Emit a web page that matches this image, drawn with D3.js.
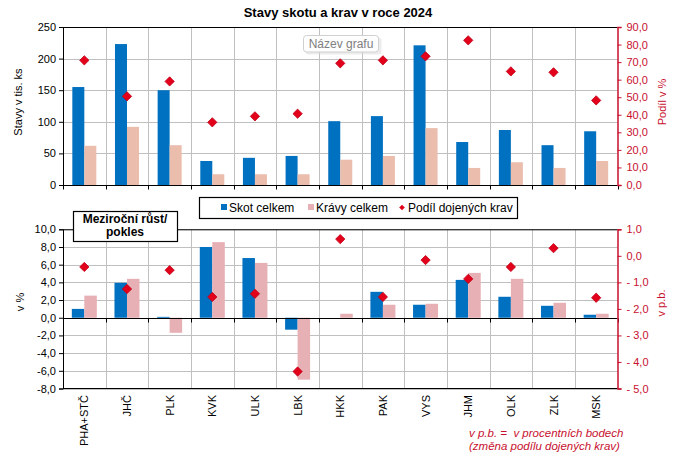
<!DOCTYPE html>
<html><head><meta charset="utf-8">
<script src="https://cdn.jsdelivr.net/npm/d3@7"></script>
<style>body{margin:0;background:#fff;} svg{display:block;font-family:"Liberation Sans",Arial,sans-serif;}</style>
</head><body>
<script>
const categories = ["PHA+STČ","JHČ","PLK","KVK","ULK","LBK","HKK","PAK","VYS","JHM","OLK","ZLK","MSK"];
// top chart: stavy v tis. ks
const skotStav = [155,223,150,38,43,46,101,109,221,68,87,63,85];
const kravyStav = [62,92,63,17,17,17,40,46,90,27,36,27,38];
const podilDojenych = [71.0,50.5,59.0,35.7,39.1,40.6,69.3,71.0,73.3,82.4,64.7,64.2,48.2];
// bottom chart: meziroční změna v %
const skotZmena = [1.0,3.95,0.1,8.0,6.75,-1.35,0.0,2.93,1.47,4.28,2.37,1.35,0.34];
const kravyZmena = [2.5,4.4,-1.7,8.55,6.2,-7.0,0.45,1.47,1.58,5.07,4.4,1.69,0.45];
const podilZmena = [-0.42,-1.25,-0.54,-1.55,-1.43,-4.36,0.63,-1.55,-0.16,-0.87,-0.42,0.29,-1.58];
const topLeftTicks = [0,50,100,150,200,250];
const topRightTicks = [0,10,20,30,40,50,60,70,80,90];
const botLeftTicks = [-8,-6,-4,-2,0,2,4,6,8,10];
const botRightTicks = [-5,-4,-3,-2,-1,0,1];

const W=680,H=463;
const BLUE="#0070c0", PINK_TOP="#eabdac", PINK_BOT="#e6b0b5", RED="#e2001a", AXRED="#c8102e", GRID="#c0c0c0";
const svg=d3.select("body").append("svg").attr("width",W).attr("height",H);
const L=63,R=617.5;
const x=d3.scaleBand().domain(categories).range([L,R]).paddingInner(0).paddingOuter(0);
const bw=x.bandwidth();
const fmt=v=>d3.format(".1f")(v).replace(".",",").replace("−","-");

// title
svg.append("text").attr("x",338).attr("y",17).attr("text-anchor","middle").attr("font-weight","bold").attr("font-size",13).text("Stavy skotu a krav v roce 2024");

function panel(cfg){
  const g=svg.append("g");
  const yL=d3.scaleLinear().domain(cfg.ldom).range([cfg.bottom,cfg.top]);
  const yR=d3.scaleLinear().domain(cfg.rdom).range([cfg.bottom,cfg.top]);
  g.selectAll(null).data(cfg.lticks).join("line").attr("x1",L).attr("x2",R)
    .attr("y1",d=>Math.round(yL(d))+0.5).attr("y2",d=>Math.round(yL(d))+0.5).attr("stroke",GRID);
  g.selectAll(null).data(categories.slice(1)).join("line")
    .attr("x1",d=>Math.round(x(d))+0.5).attr("x2",d=>Math.round(x(d))+0.5)
    .attr("y1",cfg.top).attr("y2",cfg.bottom).attr("stroke",GRID);
  const bwid=cfg.barW;
  g.selectAll(null).data(cfg.s1).join("rect")
    .attr("x",(d,i)=>x(categories[i])+bw/2-bwid).attr("width",bwid)
    .attr("y",d=>Math.min(yL(d),yL(0))).attr("height",d=>Math.abs(yL(d)-yL(0))).attr("fill",BLUE);
  g.selectAll(null).data(cfg.s2).join("rect")
    .attr("x",(d,i)=>x(categories[i])+bw/2).attr("width",bwid)
    .attr("y",d=>Math.min(yL(d),yL(0))).attr("height",d=>Math.abs(yL(d)-yL(0))).attr("fill",cfg.pink);
  g.append("line").attr("x1",L).attr("x2",R).attr("y1",cfg.top+0.5).attr("y2",cfg.top+0.5).attr("stroke","#000");
  if(cfg.bottomBorder) g.append("line").attr("x1",L).attr("x2",R).attr("y1",cfg.bottom).attr("y2",cfg.bottom).attr("stroke","#000");
  const y0=Math.round(yL(0))+0.5;
  g.append("line").attr("x1",L).attr("x2",R).attr("y1",y0).attr("y2",y0).attr("stroke","#000");
  g.selectAll(null).data(categories.slice(1).map(c=>x(c)).concat([L,R])).join("line")
    .attr("x1",d=>Math.round(d)+0.5).attr("x2",d=>Math.round(d)+0.5).attr("y1",y0).attr("y2",y0+4).attr("stroke","#000");
  const la=d3.axisLeft(yL).tickValues(cfg.lticks).tickSize(4).tickPadding(3).tickFormat(cfg.lfmt);
  const lg=g.append("g").attr("transform",`translate(${L},0)`).call(la);
  lg.selectAll("text").attr("font-size",11).attr("fill","#000").attr("font-family","Liberation Sans, Arial");
  lg.select(".domain").attr("stroke","#000");
  lg.selectAll(".tick line").attr("stroke","#000");
  const ra=d3.axisRight(yR).tickValues(cfg.rticks).tickSize(4).tickPadding(5).tickFormat(cfg.rfmt);
  const rg=g.append("g").attr("transform",`translate(${R},0)`).call(ra);
  rg.selectAll("text").attr("font-size",11).attr("fill",AXRED).attr("font-family","Liberation Sans, Arial").style("white-space","pre");
  rg.select(".domain").attr("stroke",AXRED).attr("stroke-width",1.5);
  rg.selectAll(".tick line").attr("stroke",AXRED);
  const sym=d3.symbol().type(d3.symbolDiamond2).size(55);
  g.selectAll(null).data(cfg.s3).join("path").attr("d",sym)
    .attr("transform",(d,i)=>`translate(${x(categories[i])+bw/2},${yR(d)})`)
    .attr("fill",RED).attr("stroke","#c00018").attr("stroke-width",0.8);
  return {yL,yR};
}

panel({top:27,bottom:185,ldom:[0,250],rdom:[0,90],lticks:topLeftTicks,rticks:topRightTicks,
  s1:skotStav,s2:kravyStav,s3:podilDojenych,pink:PINK_TOP,barW:12,
  lfmt:d3.format("d"),rfmt:fmt,bottomBorder:false});
panel({top:229.3,bottom:388.5,ldom:[-8,10],rdom:[-5,1],lticks:botLeftTicks,rticks:botRightTicks,
  s1:skotZmena,s2:kravyZmena,s3:podilZmena,pink:PINK_BOT,barW:12.5,
  lfmt:fmt,rfmt:v=>v<0?"- "+fmt(-v):fmt(v),bottomBorder:true});

function vtext(xp,yp,t,col){svg.append("text").attr("transform",`translate(${xp},${yp}) rotate(-90)`)
  .attr("text-anchor","middle").attr("font-size",11).attr("fill",col).text(t);}
vtext(22,102,"Stavy v tis. ks","#000");
vtext(666,102,"Podíl v %",AXRED);
vtext(24,302,"v %","#000");
vtext(665,303,"v p.b.",AXRED);

svg.selectAll(".cl").data(categories).join("text")
  .attr("transform",d=>`translate(${x(d)+bw/2+4},395) rotate(-90)`)
  .attr("text-anchor","end").attr("font-size",11).text(d=>d);

const ng=svg.append("g");
ng.append("rect").attr("x",304).attr("y",36).attr("width",76).attr("height",17).attr("rx",3)
  .attr("fill","#d9d9d9").attr("opacity",0.5).attr("transform","translate(1.5,1.5)");
ng.append("rect").attr("x",303.5).attr("y",35.5).attr("width",75).attr("height",16.5).attr("rx",3)
  .attr("fill","#fff").attr("fill-opacity",0.9).attr("stroke","#d0d0d0");
ng.append("text").attr("x",341).attr("y",48).attr("text-anchor","middle").attr("font-size",12).attr("fill","#7f7f7f")
  .attr("font-family","Liberation Sans, Arial").text("Název grafu");

const lgd=svg.append("g");
lgd.append("rect").attr("x",199.5).attr("y",197.5).attr("width",318).attr("height",21).attr("fill","#fff").attr("stroke","#000").attr("stroke-width",1.2);
lgd.append("rect").attr("x",221).attr("y",204).attr("width",6).attr("height",6).attr("fill",BLUE);
lgd.append("text").attr("x",229).attr("y",212).attr("font-size",12).text("Skot celkem");
lgd.append("rect").attr("x",308).attr("y",204).attr("width",6).attr("height",6).attr("fill",PINK_BOT);
lgd.append("text").attr("x",316).attr("y",212).attr("font-size",12).text("Krávy celkem");
lgd.append("path").attr("d",d3.symbol().type(d3.symbolDiamond2).size(20)).attr("transform","translate(402,207.5)").attr("fill",RED);
lgd.append("text").attr("x",408).attr("y",212).attr("font-size",12).text("Podíl dojených krav");

const mb=svg.append("g");
mb.append("rect").attr("x",73.5).attr("y",211.5).attr("width",104).attr("height",30).attr("fill","#fff").attr("stroke","#000").attr("stroke-width",1.2);
mb.append("text").attr("x",125).attr("y",223).attr("text-anchor","middle").attr("font-size",12).attr("font-weight","bold").text("Meziroční růst/");
mb.append("text").attr("x",125).attr("y",236).attr("text-anchor","middle").attr("font-size",12).attr("font-weight","bold").text("pokles");

svg.append("text").attr("x",469).attr("y",437).attr("font-size",11.5).attr("font-style","italic").attr("fill",AXRED).style("white-space","pre").text("v p.b. =  v procentních bodech");
svg.append("text").attr("x",469).attr("y",450).attr("font-size",11.5).attr("font-style","italic").attr("fill",AXRED).text("(změna podílu dojených krav)");
</script>
</body></html>
